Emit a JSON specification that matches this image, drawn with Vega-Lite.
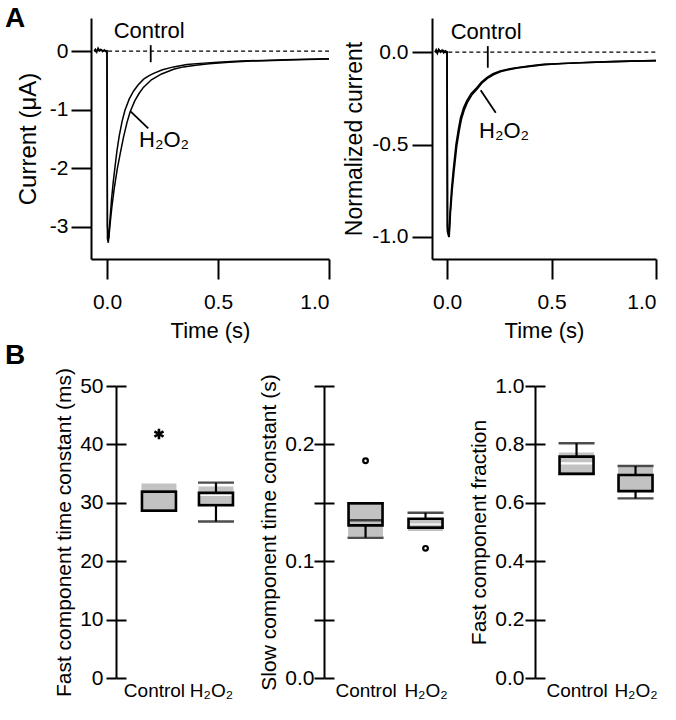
{
  "$schema": "https://vega.github.io/schema/vega-lite/v6.json",
  "padding": 5,
  "config": {
    "font": "Liberation Sans",
    "view": {"stroke": null},
    "axis": {
      "labelFont": "Liberation Sans", "titleFont": "Liberation Sans",
      "labelFontSize": 21, "titleFontSize": 21, "titleFontWeight": "normal",
      "labelColor": "black", "titleColor": "black", "domainColor": "black", "tickColor": "black",
      "domainWidth": 2, "tickWidth": 2, "grid": false, "labelOverlap": false
    },
    "text": {"font": "Liberation Sans", "color": "black"},
    "title": {"font": "Liberation Sans", "color": "black"}
  },
  "datasets": {
    "traceA": [
      {"t": -0.058, "I": 0.0, "cond": "Control"}, {"t": -0.052, "I": 0.03, "cond": "Control"}, {"t": -0.046, "I": -0.02, "cond": "Control"}, {"t": -0.04, "I": 0.05, "cond": "Control"}, {"t": -0.034, "I": 0.01, "cond": "Control"}, {"t": -0.028, "I": 0.03, "cond": "Control"}, {"t": -0.02, "I": -0.01, "cond": "Control"}, {"t": -0.012, "I": 0.02, "cond": "Control"}, {"t": -0.005, "I": -0.01, "cond": "Control"}, {"t": 0.0, "I": 0.0, "cond": "Control"},
      {"t": 0.002, "I": -3.2, "cond": "Control"}, {"t": 0.006, "I": -3.27, "cond": "Control"}, {"t": 0.012, "I": -2.95, "cond": "Control"}, {"t": 0.02, "I": -2.55, "cond": "Control"}, {"t": 0.028, "I": -2.24, "cond": "Control"}, {"t": 0.036, "I": -1.98, "cond": "Control"}, {"t": 0.045, "I": -1.7, "cond": "Control"}, {"t": 0.055, "I": -1.45, "cond": "Control"}, {"t": 0.068, "I": -1.2, "cond": "Control"}, {"t": 0.081, "I": -1.01, "cond": "Control"}, {"t": 0.1, "I": -0.82, "cond": "Control"}, {"t": 0.12, "I": -0.68, "cond": "Control"}, {"t": 0.14, "I": -0.58, "cond": "Control"}, {"t": 0.165, "I": -0.48, "cond": "Control"}, {"t": 0.19, "I": -0.42, "cond": "Control"}, {"t": 0.21, "I": -0.38, "cond": "Control"}, {"t": 0.25, "I": -0.32, "cond": "Control"}, {"t": 0.3, "I": -0.27, "cond": "Control"}, {"t": 0.36, "I": -0.23, "cond": "Control"}, {"t": 0.42, "I": -0.21, "cond": "Control"}, {"t": 0.5, "I": -0.19, "cond": "Control"}, {"t": 0.6, "I": -0.17, "cond": "Control"}, {"t": 0.7, "I": -0.16, "cond": "Control"}, {"t": 0.8, "I": -0.15, "cond": "Control"}, {"t": 0.9, "I": -0.14, "cond": "Control"}, {"t": 1.0, "I": -0.13, "cond": "Control"},
      {"t": -0.058, "I": 0.01, "cond": "H2O2"}, {"t": -0.05, "I": -0.01, "cond": "H2O2"}, {"t": -0.042, "I": 0.03, "cond": "H2O2"}, {"t": -0.035, "I": 0.0, "cond": "H2O2"}, {"t": -0.025, "I": 0.02, "cond": "H2O2"}, {"t": -0.015, "I": 0.0, "cond": "H2O2"}, {"t": -0.006, "I": 0.01, "cond": "H2O2"}, {"t": 0.0, "I": 0.0, "cond": "H2O2"},
      {"t": 0.002, "I": -3.0, "cond": "H2O2"}, {"t": 0.008, "I": -3.2, "cond": "H2O2"}, {"t": 0.014, "I": -2.95, "cond": "H2O2"}, {"t": 0.022, "I": -2.66, "cond": "H2O2"}, {"t": 0.032, "I": -2.36, "cond": "H2O2"}, {"t": 0.046, "I": -2.02, "cond": "H2O2"}, {"t": 0.06, "I": -1.74, "cond": "H2O2"}, {"t": 0.075, "I": -1.46, "cond": "H2O2"}, {"t": 0.09, "I": -1.22, "cond": "H2O2"}, {"t": 0.104, "I": -1.04, "cond": "H2O2"}, {"t": 0.125, "I": -0.85, "cond": "H2O2"}, {"t": 0.145, "I": -0.72, "cond": "H2O2"}, {"t": 0.164, "I": -0.62, "cond": "H2O2"}, {"t": 0.2, "I": -0.49, "cond": "H2O2"}, {"t": 0.246, "I": -0.39, "cond": "H2O2"}, {"t": 0.3, "I": -0.31, "cond": "H2O2"}, {"t": 0.344, "I": -0.27, "cond": "H2O2"}, {"t": 0.4, "I": -0.24, "cond": "H2O2"}, {"t": 0.46, "I": -0.215, "cond": "H2O2"}, {"t": 0.55, "I": -0.19, "cond": "H2O2"}, {"t": 0.65, "I": -0.17, "cond": "H2O2"}, {"t": 0.75, "I": -0.16, "cond": "H2O2"}, {"t": 0.85, "I": -0.15, "cond": "H2O2"}, {"t": 1.0, "I": -0.135, "cond": "H2O2"}
    ],
    "traceN": [
      {"t": -0.058, "I": 0.0, "cond": "Control"}, {"t": -0.052, "I": 0.012, "cond": "Control"}, {"t": -0.046, "I": -0.006, "cond": "Control"}, {"t": -0.04, "I": 0.014, "cond": "Control"}, {"t": -0.032, "I": 0.0, "cond": "Control"}, {"t": -0.024, "I": 0.01, "cond": "Control"}, {"t": -0.016, "I": -0.004, "cond": "Control"}, {"t": -0.008, "I": 0.006, "cond": "Control"}, {"t": 0.0, "I": 0.0, "cond": "Control"},
      {"t": 0.002, "I": -0.97, "cond": "Control"}, {"t": 0.009, "I": -1.0, "cond": "Control"}, {"t": 0.015, "I": -0.86, "cond": "Control"}, {"t": 0.022, "I": -0.74, "cond": "Control"}, {"t": 0.03, "I": -0.64, "cond": "Control"}, {"t": 0.043, "I": -0.5, "cond": "Control"}, {"t": 0.055, "I": -0.415, "cond": "Control"}, {"t": 0.065, "I": -0.355, "cond": "Control"}, {"t": 0.08, "I": -0.3, "cond": "Control"}, {"t": 0.094, "I": -0.265, "cond": "Control"}, {"t": 0.115, "I": -0.225, "cond": "Control"}, {"t": 0.142, "I": -0.193, "cond": "Control"}, {"t": 0.165, "I": -0.162, "cond": "Control"}, {"t": 0.19, "I": -0.139, "cond": "Control"}, {"t": 0.22, "I": -0.118, "cond": "Control"}, {"t": 0.254, "I": -0.103, "cond": "Control"}, {"t": 0.29, "I": -0.093, "cond": "Control"}, {"t": 0.333, "I": -0.085, "cond": "Control"}, {"t": 0.4, "I": -0.075, "cond": "Control"}, {"t": 0.461, "I": -0.067, "cond": "Control"}, {"t": 0.55, "I": -0.062, "cond": "Control"}, {"t": 0.636, "I": -0.058, "cond": "Control"}, {"t": 0.75, "I": -0.053, "cond": "Control"}, {"t": 0.876, "I": -0.049, "cond": "Control"}, {"t": 1.0, "I": -0.046, "cond": "Control"},
      {"t": -0.058, "I": 0.004, "cond": "H2O2"}, {"t": -0.048, "I": -0.004, "cond": "H2O2"}, {"t": -0.038, "I": 0.01, "cond": "H2O2"}, {"t": -0.028, "I": 0.002, "cond": "H2O2"}, {"t": -0.018, "I": 0.008, "cond": "H2O2"}, {"t": -0.008, "I": -0.002, "cond": "H2O2"}, {"t": 0.0, "I": 0.0, "cond": "H2O2"},
      {"t": 0.002, "I": -0.95, "cond": "H2O2"}, {"t": 0.01, "I": -1.0, "cond": "H2O2"}, {"t": 0.016, "I": -0.87, "cond": "H2O2"}, {"t": 0.024, "I": -0.75, "cond": "H2O2"}, {"t": 0.033, "I": -0.645, "cond": "H2O2"}, {"t": 0.046, "I": -0.51, "cond": "H2O2"}, {"t": 0.058, "I": -0.425, "cond": "H2O2"}, {"t": 0.068, "I": -0.365, "cond": "H2O2"}, {"t": 0.083, "I": -0.31, "cond": "H2O2"}, {"t": 0.097, "I": -0.272, "cond": "H2O2"}, {"t": 0.118, "I": -0.232, "cond": "H2O2"}, {"t": 0.145, "I": -0.198, "cond": "H2O2"}, {"t": 0.168, "I": -0.166, "cond": "H2O2"}, {"t": 0.193, "I": -0.142, "cond": "H2O2"}, {"t": 0.224, "I": -0.121, "cond": "H2O2"}, {"t": 0.258, "I": -0.105, "cond": "H2O2"}, {"t": 0.295, "I": -0.095, "cond": "H2O2"}, {"t": 0.338, "I": -0.086, "cond": "H2O2"}, {"t": 0.405, "I": -0.076, "cond": "H2O2"}, {"t": 0.466, "I": -0.068, "cond": "H2O2"}, {"t": 0.555, "I": -0.062, "cond": "H2O2"}, {"t": 0.64, "I": -0.058, "cond": "H2O2"}, {"t": 0.755, "I": -0.053, "cond": "H2O2"}, {"t": 0.88, "I": -0.049, "cond": "H2O2"}, {"t": 1.0, "I": -0.046, "cond": "H2O2"}
    ],
    "zeroA": [{"t": 0.005, "t2": 1.0, "v": 0}],
    "ptrA": [{"t": 0.197, "t2": 0.197, "v": 0.1, "v2": -0.19}, {"t": 0.106, "t2": 0.186, "v": -1.03, "v2": -1.32}],
    "txtA": [{"t": 0.19, "v": 0.22, "label": "Control"}, {"t": 0.257, "v": -1.64, "label": "H₂O₂"}],
    "zeroN": [{"t": 0.006, "t2": 1.0, "v": 0}],
    "ptrN": [{"t": 0.195, "t2": 0.195, "v": 0.032, "v2": -0.085}, {"t": 0.161, "t2": 0.233, "v": -0.207, "v2": -0.328}],
    "txtN": [{"t": 0.187, "v": 0.069, "label": "Control"}, {"t": 0.273, "v": -0.463, "label": "H₂O₂"}],
    "box1": [
      {"cat": "Control", "lo": 28.65, "q1": 28.65, "med": null, "q3": 31.9, "hi": 31.9},
      {"cat": "H₂O₂", "lo": 26.8, "q1": 29.6, "med": null, "q3": 31.7, "hi": 33.45}
    ],
    "shade1": [
      {"cat": "Control", "s1": 28.65, "s2": 33.3},
      {"cat": "H₂O₂", "s1": 29.9, "s2": 31.15},
      {"cat": "H₂O₂", "s1": 31.7, "s2": 32.8}
    ],
    "out1": [{"cat": "Control", "v": 41.8}],
    "box2": [
      {"cat": "Control", "lo": 0.1201, "q1": 0.1307, "med": 0.135, "q3": 0.1496, "hi": 0.1496},
      {"cat": "H₂O₂", "lo": 0.1287, "q1": 0.1287, "med": null, "q3": 0.1364, "hi": 0.1415}
    ],
    "shade2": [
      {"cat": "Control", "s1": 0.1216, "s2": 0.1496},
      {"cat": "H₂O₂", "s1": 0.1259, "s2": 0.1312},
      {"cat": "H₂O₂", "s1": 0.1322, "s2": 0.1364}
    ],
    "out2": [{"cat": "Control", "v": 0.186}, {"cat": "H₂O₂", "v": 0.111}],
    "box3": [
      {"cat": "Control", "lo": 0.699, "q1": 0.699, "med": null, "q3": 0.758, "hi": 0.804},
      {"cat": "H₂O₂", "lo": 0.615, "q1": 0.64, "med": null, "q3": 0.695, "hi": 0.726}
    ],
    "shade3": [
      {"cat": "Control", "s1": 0.699, "s2": 0.731},
      {"cat": "Control", "s1": 0.739, "s2": 0.772},
      {"cat": "H₂O₂", "s1": 0.64, "s2": 0.7215}
    ]
  },
  "columns": 1,
  "align": "none",
  "spacing": 0,
  "concat": [
    {
      "hconcat": [
        {
          "width": 238, "height": 241,
          "title": {"text": "A", "anchor": "start", "frame": "group", "fontSize": 28, "fontWeight": "bold", "baseline": "alphabetic", "offset": 0, "dx": -86, "dy": 37},
          "layer": [
            {
              "data": {"name": "traceA"},
              "mark": {"type": "line", "color": "black", "strokeWidth": 1.5},
              "encoding": {
                "x": {"field": "t", "type": "quantitative", "scale": {"domain": [-0.072, 1.0], "nice": false, "zero": false},
                      "axis": {"values": [0, 0.5, 1.0], "format": ".1f", "tickSize": 20, "labelPadding": 12, "title": "Time (s)", "titlePadding": 8, "titleFontSize": 22}},
                "y": {"field": "I", "type": "quantitative", "scale": {"domain": [-3.547, 0.564], "nice": false, "zero": false},
                      "axis": {"values": [0, -1, -2, -3], "format": "d", "tickSize": 20, "labelPadding": 3, "title": "Current (μA)", "titlePadding": 9, "titleFontSize": 24, "labelExpr": "replace(datum.label, '−', '-')"}},
                "detail": {"field": "cond"}
              }
            },
            {
              "data": {"name": "zeroA"},
              "mark": {"type": "rule", "color": "black", "strokeWidth": 1.3, "strokeDash": [4, 3]},
              "encoding": {"x": {"field": "t", "type": "quantitative"}, "x2": {"field": "t2"}, "y": {"field": "v", "type": "quantitative"}}
            },
            {
              "data": {"name": "ptrA"},
              "mark": {"type": "rule", "color": "black", "strokeWidth": 1.8},
              "encoding": {"x": {"field": "t", "type": "quantitative"}, "x2": {"field": "t2"}, "y": {"field": "v", "type": "quantitative"}, "y2": {"field": "v2"}}
            },
            {
              "data": {"name": "txtA"},
              "mark": {"type": "text", "fontSize": 22, "align": "center", "baseline": "alphabetic"},
              "encoding": {"x": {"field": "t", "type": "quantitative"}, "y": {"field": "v", "type": "quantitative"}, "text": {"field": "label"}}
            }
          ]
        },
        {
          "width": 224, "height": 241,
          "layer": [
            {
              "data": {"name": "traceN"},
              "mark": {"type": "line", "color": "black", "strokeWidth": 1.7},
              "encoding": {
                "x": {"field": "t", "type": "quantitative", "scale": {"domain": [-0.072, 1.0], "nice": false, "zero": false},
                      "axis": {"values": [0, 0.5, 1.0], "format": ".1f", "tickSize": 20, "labelPadding": 12, "title": "Time (s)", "titlePadding": 8, "titleFontSize": 22}},
                "y": {"field": "I", "type": "quantitative", "scale": {"domain": [-1.119, 0.184], "nice": false, "zero": false},
                      "axis": {"values": [0, -0.5, -1], "format": ".1f", "tickSize": 20, "labelPadding": 4, "title": "Normalized current", "titlePadding": 5, "titleFontSize": 23, "labelExpr": "replace(datum.label, '−', '-')"}},
                "detail": {"field": "cond"}
              }
            },
            {
              "data": {"name": "zeroN"},
              "mark": {"type": "rule", "color": "black", "strokeWidth": 1.3, "strokeDash": [4, 3]},
              "encoding": {"x": {"field": "t", "type": "quantitative"}, "x2": {"field": "t2"}, "y": {"field": "v", "type": "quantitative"}}
            },
            {
              "data": {"name": "ptrN"},
              "mark": {"type": "rule", "color": "black", "strokeWidth": 1.8},
              "encoding": {"x": {"field": "t", "type": "quantitative"}, "x2": {"field": "t2"}, "y": {"field": "v", "type": "quantitative"}, "y2": {"field": "v2"}}
            },
            {
              "data": {"name": "txtN"},
              "mark": {"type": "text", "fontSize": 22, "align": "center", "baseline": "alphabetic"},
              "encoding": {"x": {"field": "t", "type": "quantitative"}, "y": {"field": "v", "type": "quantitative"}, "text": {"field": "label"}}
            }
          ]
        }
      ],
      "spacing": 103,
      "bounds": "flush"
    },
    {
      "hconcat": [
        {
          "width": 153, "height": 292,
          "title": {"text": "B", "anchor": "start", "frame": "group", "fontSize": 28, "fontWeight": "bold", "baseline": "alphabetic", "offset": 0, "dx": -86, "dy": 27},
          "encoding": {
            "x": {"field": "cat", "type": "nominal", "scale": {"type": "point", "domain": ["Control", "H₂O₂"], "padding": 0.842, "align": 0.708},
                  "axis": {"orient": "bottom", "domain": false, "ticks": false, "labelPadding": 3, "labelAngle": 0, "title": null, "labelFontSize": 19, "labelOffset": -5}}
          },
          "layer": [
            {
              "layer": [
                {"data": {"name": "shade1"}, "mark": {"type": "bar", "width": 35, "color": "#c2c2c2"},
                 "encoding": {"y": {"field": "s1", "type": "quantitative", "scale": {"domain": [0, 50], "nice": false, "zero": false},
                   "axis": {"values": [0, 10, 20, 30, 40, 50], "offset": -25, "tickSize": 10, "labelPadding": 3, "title": "Fast component  time constant (ms)", "titlePadding": 5}},
                   "y2": {"field": "s2"}}},
                {"data": {"name": "box1"}, "mark": {"type": "rule", "color": "black", "strokeWidth": 2.2},
                 "encoding": {"y": {"field": "lo", "type": "quantitative"}, "y2": {"field": "q1"}}},
                {"data": {"name": "box1"}, "mark": {"type": "rule", "color": "black", "strokeWidth": 2.2},
                 "encoding": {"y": {"field": "q3", "type": "quantitative"}, "y2": {"field": "hi"}}},
                {"data": {"name": "box1"}, "mark": {"type": "bar", "width": 34, "filled": false, "color": "black", "strokeWidth": 2.6},
                 "encoding": {"y": {"field": "q1", "type": "quantitative"}, "y2": {"field": "q3"}}},
                {"data": {"name": "box1"}, "mark": {"type": "tick", "orient": "horizontal", "size": 36, "thickness": 2.4, "color": "black"},
                 "encoding": {"y": {"field": "lo", "type": "quantitative"}}},
                {"data": {"name": "box1"}, "mark": {"type": "tick", "orient": "horizontal", "size": 36, "thickness": 2.4, "color": "black"},
                 "encoding": {"y": {"field": "hi", "type": "quantitative"}}},
                {"data": {"name": "out1"}, "mark": {"type": "point", "shape": "M0,-1L0,1M-0.87,-0.5L0.87,0.5M-0.87,0.5L0.87,-0.5", "size": 110, "filled": false, "color": "black", "strokeWidth": 2.6, "opacity": 1},
                 "encoding": {"y": {"field": "v", "type": "quantitative"}}}
              ]
            },
            {
              "data": {"name": "box1"}, "mark": {"type": "point", "opacity": 0},
              "encoding": {"y": {"field": "lo", "type": "quantitative", "scale": {"domain": [0, 50], "nice": false, "zero": false},
                "axis": {"orient": "left", "offset": -35, "tickSize": 10, "domain": false, "labels": false, "title": null, "values": [0, 10, 20, 30, 40, 50]}}}
            }
          ],
          "resolve": {"scale": {"y": "independent"}}
        },
        {
          "width": 131, "height": 292,
          "encoding": {
            "x": {"field": "cat", "type": "nominal", "scale": {"type": "point", "domain": ["Control", "H₂O₂"], "padding": 0.592, "align": 0.585},
                  "axis": {"orient": "bottom", "domain": false, "ticks": false, "labelPadding": 3, "labelAngle": 0, "title": null, "labelFontSize": 19}}
          },
          "layer": [
            {
              "layer": [
                {"data": {"name": "shade2"}, "mark": {"type": "bar", "width": 35, "color": "#c2c2c2"},
                 "encoding": {"y": {"field": "s1", "type": "quantitative", "scale": {"domain": [0, 0.25], "nice": false, "zero": false},
                   "axis": {"values": [0, 0.05, 0.1, 0.15, 0.2, 0.25], "tickSize": 10, "labelPadding": 0, "title": "Slow  component time constant (s)", "titlePadding": 5,
                     "labelExpr": "round(datum.value * 20) % 2 == 0 ? format(datum.value, '.1f') : ''"}},
                   "y2": {"field": "s2"}}},
                {"data": {"name": "box2"}, "mark": {"type": "rule", "color": "black", "strokeWidth": 2.2},
                 "encoding": {"y": {"field": "lo", "type": "quantitative"}, "y2": {"field": "q1"}}},
                {"data": {"name": "box2"}, "mark": {"type": "rule", "color": "black", "strokeWidth": 2.2},
                 "encoding": {"y": {"field": "q3", "type": "quantitative"}, "y2": {"field": "hi"}}},
                {"data": {"name": "box2"}, "mark": {"type": "bar", "width": 34, "filled": false, "color": "black", "strokeWidth": 2.6},
                 "encoding": {"y": {"field": "q1", "type": "quantitative"}, "y2": {"field": "q3"}}},
                {"data": {"name": "box2"}, "mark": {"type": "tick", "orient": "horizontal", "size": 34, "thickness": 2.6, "color": "black"},
                 "encoding": {"y": {"field": "med", "type": "quantitative"}}},
                {"data": {"name": "box2"}, "mark": {"type": "tick", "orient": "horizontal", "size": 36, "thickness": 2.4, "color": "black"},
                 "encoding": {"y": {"field": "lo", "type": "quantitative"}}},
                {"data": {"name": "box2"}, "mark": {"type": "tick", "orient": "horizontal", "size": 36, "thickness": 2.4, "color": "black"},
                 "encoding": {"y": {"field": "hi", "type": "quantitative"}}},
                {"data": {"name": "out2"}, "mark": {"type": "point", "shape": "circle", "size": 22, "filled": false, "color": "black", "strokeWidth": 2.2, "opacity": 1},
                 "encoding": {"y": {"field": "v", "type": "quantitative"}}}
              ]
            },
            {
              "data": {"name": "box2"}, "mark": {"type": "point", "opacity": 0},
              "encoding": {"y": {"field": "lo", "type": "quantitative", "scale": {"domain": [0, 0.25], "nice": false, "zero": false},
                "axis": {"orient": "left", "offset": -10, "tickSize": 10, "domain": false, "labels": false, "title": null, "values": [0, 0.05, 0.1, 0.15, 0.2, 0.25]}}}
            }
          ],
          "resolve": {"scale": {"y": "independent"}}
        },
        {
          "width": 130, "height": 292,
          "encoding": {
            "x": {"field": "cat", "type": "nominal", "scale": {"type": "point", "domain": ["Control", "H₂O₂"], "padding": 0.602, "align": 0.585},
                  "axis": {"orient": "bottom", "domain": false, "ticks": false, "labelPadding": 3, "labelAngle": 0, "title": null, "labelFontSize": 19}}
          },
          "layer": [
            {
              "layer": [
                {"data": {"name": "shade3"}, "mark": {"type": "bar", "width": 35, "color": "#c2c2c2"},
                 "encoding": {"y": {"field": "s1", "type": "quantitative", "scale": {"domain": [0, 1], "nice": false, "zero": false},
                   "axis": {"values": [0, 0.2, 0.4, 0.6, 0.8, 1.0], "format": ".1f", "tickSize": 10, "labelPadding": 1, "title": "Fast component fraction", "titlePadding": 5}},
                   "y2": {"field": "s2"}}},
                {"data": {"name": "box3"}, "mark": {"type": "rule", "color": "black", "strokeWidth": 2.2},
                 "encoding": {"y": {"field": "lo", "type": "quantitative"}, "y2": {"field": "q1"}}},
                {"data": {"name": "box3"}, "mark": {"type": "rule", "color": "black", "strokeWidth": 2.2},
                 "encoding": {"y": {"field": "q3", "type": "quantitative"}, "y2": {"field": "hi"}}},
                {"data": {"name": "box3"}, "mark": {"type": "bar", "width": 34, "filled": false, "color": "black", "strokeWidth": 2.6},
                 "encoding": {"y": {"field": "q1", "type": "quantitative"}, "y2": {"field": "q3"}}},
                {"data": {"name": "box3"}, "mark": {"type": "tick", "orient": "horizontal", "size": 36, "thickness": 2.4, "color": "black"},
                 "encoding": {"y": {"field": "lo", "type": "quantitative"}}},
                {"data": {"name": "box3"}, "mark": {"type": "tick", "orient": "horizontal", "size": 36, "thickness": 2.4, "color": "black"},
                 "encoding": {"y": {"field": "hi", "type": "quantitative"}}}
              ]
            },
            {
              "data": {"name": "box3"}, "mark": {"type": "point", "opacity": 0},
              "encoding": {"y": {"field": "lo", "type": "quantitative", "scale": {"domain": [0, 1], "nice": false, "zero": false},
                "axis": {"orient": "left", "offset": -10, "tickSize": 10, "domain": false, "labels": false, "title": null, "values": [0, 0.2, 0.4, 0.6, 0.8, 1.0]}}}
            }
          ],
          "resolve": {"scale": {"y": "independent"}}
        }
      ],
      "spacing": 80,
      "bounds": "flush"
    }
  ]
}
